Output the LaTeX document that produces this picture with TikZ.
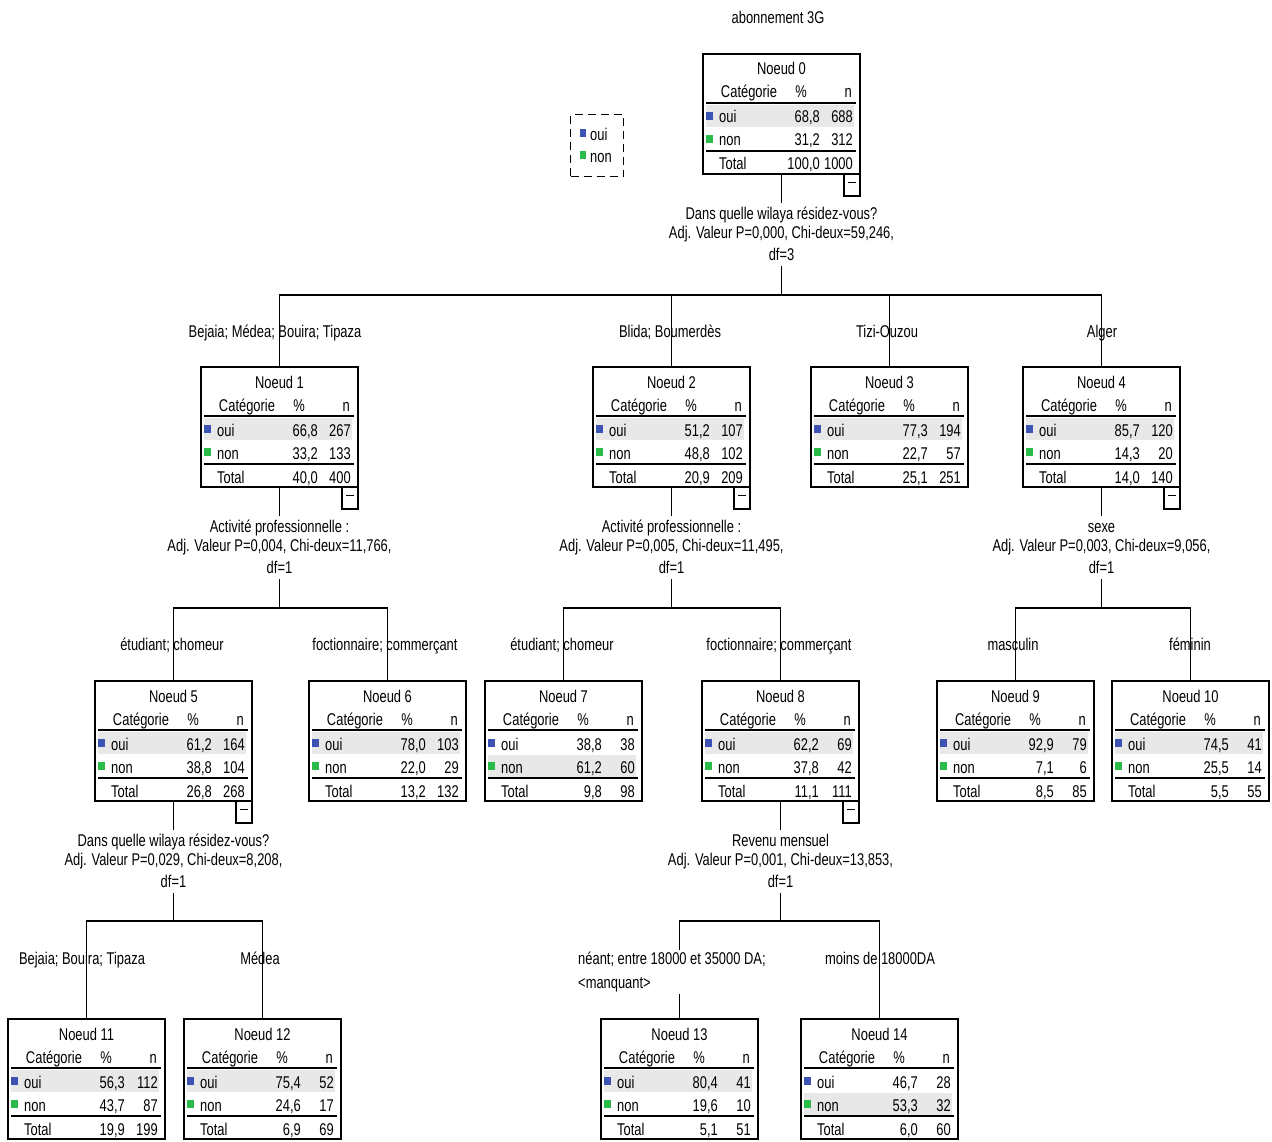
\documentclass[tikz,border=0pt]{standalone}
\usepackage{fontspec}
\setmainfont{Liberation Sans}[FakeStretch=0.76]
\usetikzlibrary{positioning,calc}
\definecolor{ouiblue}{RGB}{59,83,179}
\definecolor{nongreen}{RGB}{42,187,72}
\definecolor{hlgray}{RGB}{232,232,232}
\tikzset{
  noeud/.style={draw, line width=1.3pt, minimum width=157pt, minimum height=120pt, inner sep=0pt, outer sep=0pt, anchor=north west},
  minus/.style={draw, line width=1.1pt, minimum width=16pt, minimum height=22pt, inner sep=0pt, outer sep=0pt, anchor=north east},
  split/.style={align=center, inner sep=0pt, node distance=32pt},
  branch/.style={inner sep=0pt, anchor=base},
  cell/.style={inner sep=0pt},
  wire/.style={line width=1.2pt},
}

\begin{document}
\begin{tikzpicture}[x=1pt, y=-1pt, font=\fontsize{17}{19}\selectfont]
  \useasboundingbox (0,0) rectangle (1272,1142);
  % title
  \node[cell, anchor=base] (titre) at (778,24) {abonnement 3G};
  % legend
  \node[draw, line width=1.1pt, dash pattern=on 8pt off 5pt, minimum width=53pt, minimum height=62pt, inner sep=0pt, anchor=north west] (leg) at (570,114) {};
  \fill[ouiblue] ($(leg.north west)+(10,15)$) rectangle ++(6,8);
  \fill[nongreen] ($(leg.north west)+(10,37)$) rectangle ++(6,8);
  \node[cell, anchor=base west] (legoui) at ($(leg.north west)+(20,27)$) {oui};
  \node[cell, anchor=base west] (legnon) at ($(leg.north west)+(20,49)$) {non};
  % tree nodes
  \foreach \id/\x/\y/\pa/\na/\pb/\nb/\pt/\nt/\hl in {
      0/703/54/{68,8}/688/{31,2}/312/{100,0}/1000/1,
      1/201/367/{66,8}/267/{33,2}/133/{40,0}/400/1,
      2/593/367/{51,2}/107/{48,8}/102/{20,9}/209/1,
      3/811/367/{77,3}/194/{22,7}/57/{25,1}/251/1,
      4/1023/367/{85,7}/120/{14,3}/20/{14,0}/140/1,
      5/95/681/{61,2}/164/{38,8}/104/{26,8}/268/1,
      6/309/681/{78,0}/103/{22,0}/29/{13,2}/132/1,
      7/485/681/{38,8}/38/{61,2}/60/{9,8}/98/2,
      8/702/681/{62,2}/69/{37,8}/42/{11,1}/111/1,
      9/937/681/{92,9}/79/{7,1}/6/{8,5}/85/1,
      10/1112/681/{74,5}/41/{25,5}/14/{5,5}/55/1,
      11/8/1019/{56,3}/112/{43,7}/87/{19,9}/199/1,
      12/184/1019/{75,4}/52/{24,6}/17/{6,9}/69/1,
      13/601/1019/{80,4}/41/{19,6}/10/{5,1}/51/1,
      14/801/1019/{46,7}/28/{53,3}/32/{6,0}/60/2}{
    \pgfmathsetmacro{\hy}{\y+28+23*\hl}
    \fill[hlgray] (\x+3,\hy) rectangle ++(148,22);
    \node[noeud] (n\id) at (\x,\y) {};
    \node[cell, anchor=base] (t\id) at ($(n\id.north)+(0,21)$) {Noeud \id};
    \node[cell, anchor=base] (hc\id) at ($(n\id.north west)+(46,44)$) {Catégorie};
    \node[cell, anchor=base] (hp\id) at ($(n\id.north west)+(98,44)$) {\%};
    \node[cell, anchor=base east] (hn\id) at ($(n\id.north west)+(149,44)$) {n};
    \draw[line width=1.1pt] ($(n\id.north west)+(3,49)$) -- ++(150,0);
    \fill[ouiblue] ($(n\id.north west)+(3,58)$) rectangle ++(7,8);
    \fill[nongreen] ($(n\id.north west)+(3,81)$) rectangle ++(7,8);
    \node[cell, anchor=base west] (oa\id) at ($(n\id.north west)+(16,69)$) {oui};
    \node[cell, anchor=base east] (pa\id) at ($(n\id.north west)+(117,69)$) {\pa};
    \node[cell, anchor=base east] (na\id) at ($(n\id.north west)+(150,69)$) {\na};
    \node[cell, anchor=base west] (ob\id) at ($(n\id.north west)+(16,92)$) {non};
    \node[cell, anchor=base east] (pb\id) at ($(n\id.north west)+(117,92)$) {\pb};
    \node[cell, anchor=base east] (nb\id) at ($(n\id.north west)+(150,92)$) {\nb};
    \draw[line width=2pt] ($(n\id.north west)+(3,97)$) -- ++(150,0);
    \node[cell, anchor=base west] (ot\id) at ($(n\id.north west)+(16,116)$) {Total};
    \node[cell, anchor=base east] (pt\id) at ($(n\id.north west)+(117,116)$) {\pt};
    \node[cell, anchor=base east] (nt\id) at ($(n\id.north west)+(150,116)$) {\nt};
  }
  % collapse boxes
  \foreach \id in {0,1,2,4,5,8}
    \node[minus] (m\id) at (n\id.south east) {\rule[0.5ex]{8pt}{1.2pt}};
  % split texts
  \node[split, below=of n0] (s0) {\strut Dans quelle wilaya résidez-vous?\\Adj. Valeur P=0,000, Chi-deux=59,246,\\[3pt]df=3\strut};
  \node[split, below=of n1] (s1) {\strut Activité professionnelle :\\Adj. Valeur P=0,004, Chi-deux=11,766,\\[3pt]df=1\strut};
  \node[split, below=of n2] (s2) {\strut Activité professionnelle :\\Adj. Valeur P=0,005, Chi-deux=11,495,\\[3pt]df=1\strut};
  \node[split, below=of n4] (s4) {\strut sexe\\Adj. Valeur P=0,003, Chi-deux=9,056,\\[3pt]df=1\strut};
  \node[split, below=of n5] (s5) {\strut Dans quelle wilaya résidez-vous?\\Adj. Valeur P=0,029, Chi-deux=8,208,\\[3pt]df=1\strut};
  \node[split, below=of n8] (s8) {\strut Revenu mensuel\\Adj. Valeur P=0,001, Chi-deux=13,853,\\[3pt]df=1\strut};
  % bar levels
  \coordinate (lev1) at (0,295);
  \coordinate (lev2) at (0,608);
  \coordinate (lev3) at (0,921);
  % wires
  \foreach \p in {0,1,2,4,5,8}
    \draw[wire] (n\p.south) -- ($(s\p.north)+(0,-3)$);
  \draw[wire] (s0.south) -- (s0.south |- lev1);
  \draw[wire] (n1.north) |- (lev1 -| n4.north) -- (n4.north);
  \draw[wire] (n2.north |- lev1) -- (n2.north);
  \draw[wire] (n3.north |- lev1) -- (n3.north);
  \draw[wire] (s1.south) -- (s1.south |- lev2);
  \draw[wire] (n5.north) |- (lev2 -| n6.north) -- (n6.north);
  \draw[wire] (s2.south) -- (s2.south |- lev2);
  \draw[wire] (n7.north) |- (lev2 -| n8.north) -- (n8.north);
  \draw[wire] (s4.south) -- (s4.south |- lev2);
  \draw[wire] (n9.north) |- (lev2 -| n10.north) -- (n10.north);
  \draw[wire] (s5.south) -- (s5.south |- lev3);
  \draw[wire] (n11.north) |- (lev3 -| n12.north) -- (n12.north);
  \draw[wire] (s8.south) -- (s8.south |- lev3);
  \draw[wire] (n13.north) |- (lev3 -| n14.north) -- (n14.north);
  % branch labels
  \node[branch] (l1) at (275,337) {Bejaia; Médea; Bouira; Tipaza};
  \node[branch] (l2) at (670,337) {Blida; Boumerdès};
  \node[branch] (l3) at (887,337) {Tizi-Ouzou};
  \node[branch] (l4) at (1102,337) {Alger};
  \node[branch] (l5) at (172,650) {étudiant; chomeur};
  \node[branch] (l6) at (385,650) {foctionnaire; commerçant};
  \node[branch] (l7) at (562,650) {étudiant; chomeur};
  \node[branch] (l8) at (779,650) {foctionnaire; commerçant};
  \node[branch] (l9) at (1013,650) {masculin};
  \node[branch] (l10) at (1190,650) {féminin};
  \node[branch] (l11) at (82,964) {Bejaia; Bouira; Tipaza};
  \node[branch] (l12) at (260,964) {Médea};
  \node[branch, fill=white, align=left, anchor=north west, inner sep=2pt] (l13) at (576,950) {néant; entre 18000 et 35000 DA;\\[5pt]\textless manquant\textgreater};
  \node[branch] (l14) at (880,964) {moins de 18000DA};
\end{tikzpicture}
\end{document}
